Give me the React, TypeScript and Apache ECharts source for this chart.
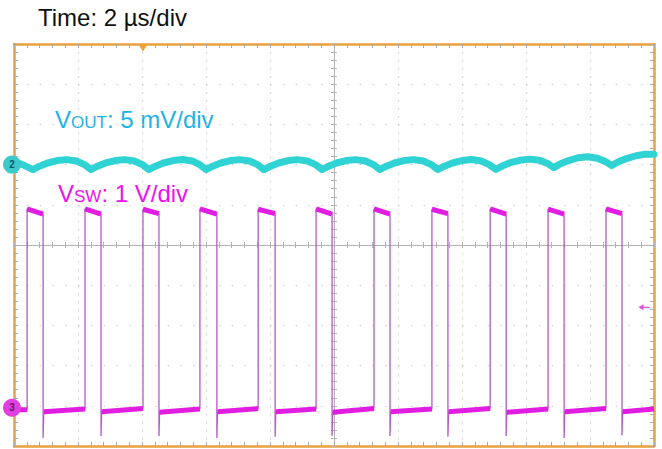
import React, { useEffect, useRef } from 'react';
import * as echarts from 'echarts';

// ---- Data (time in µs, VSW in V, VOUT ripple in mV) ----
const timeMin = 0;
const timeMax = 20;
const timeDiv = 2;

const riseTimes = [0.41, 2.22, 4.03, 5.81, 7.63, 9.44, 11.25, 13.06, 14.88, 16.69, 18.5];
const fallTimes = [0.91, 2.72, 4.53, 6.34, 8.16, 9.94, 11.75, 13.56, 15.38, 17.19, 19.0];
const highStartV = [4.95, 4.95, 4.94, 4.95, 4.94, 4.95, 4.95, 4.94, 4.95, 4.94, 4.95];
const highEndV = [4.82, 4.82, 4.83, 4.82, 4.83, 4.82, 4.82, 4.83, 4.82, 4.82, 4.83];
const undershootV = [-0.75, -0.7, -0.7, -0.75, -0.72, -0.7, -0.7, -0.72, -0.7, -0.75, -0.68];
const lowAfterV = [-0.1, -0.1, -0.11, -0.1, -0.1, -0.11, -0.1, -0.1, -0.11, -0.1, -0.1];
const lowBeforeV = [-0.05, -0.03, -0.02, -0.03, -0.02, -0.03, -0.02, -0.03, -0.02, -0.03, -0.02, -0.03];
const triggerLevelV = 2.5;

const voutTime = [
  0, 0.2, 0.4, 0.59,
  0.8, 1.05, 1.35, 1.65, 1.95, 2.2, 2.4,
  2.61, 2.86, 3.16, 3.46, 3.76, 4.01, 4.21,
  4.42, 4.67, 4.97, 5.27, 5.57, 5.8, 6.0,
  6.21, 6.46, 6.76, 7.06, 7.36, 7.61, 7.81,
  8.02, 8.27, 8.57, 8.87, 9.17, 9.42, 9.62,
  9.83, 10.08, 10.38, 10.68, 10.98, 11.23, 11.43,
  11.64, 11.89, 12.19, 12.49, 12.79, 13.04, 13.24,
  13.45, 13.7, 14.0, 14.3, 14.6, 14.85, 15.06,
  15.27, 15.52, 15.82, 16.12, 16.42, 16.67, 16.87,
  17.08, 17.33, 17.63, 17.93, 18.23, 18.48, 18.68,
  18.89, 19.14, 19.44, 19.74, 20.0,
];
const voutMv = [
  0.35, 0.1, -0.25, -0.62,
  -0.2, 0.2, 0.5, 0.62, 0.45, 0.0, -0.62,
  -0.2, 0.2, 0.5, 0.62, 0.45, 0.0, -0.62,
  -0.2, 0.2, 0.5, 0.63, 0.45, 0.0, -0.62,
  -0.2, 0.2, 0.5, 0.62, 0.45, 0.0, -0.63,
  -0.2, 0.2, 0.5, 0.62, 0.45, 0.0, -0.62,
  -0.2, 0.2, 0.5, 0.62, 0.45, 0.0, -0.62,
  -0.2, 0.2, 0.5, 0.62, 0.45, 0.0, -0.62,
  -0.2, 0.2, 0.5, 0.63, 0.45, 0.0, -0.6,
  -0.15, 0.25, 0.55, 0.68, 0.55, 0.15, -0.37,
  0.1, 0.5, 0.85, 0.98, 0.8, 0.4, -0.12,
  0.35, 0.75, 1.1, 1.3, 1.3,
];

// axis scaling (per division)
const divMin = -5;
const divMax = 5;
const vswMin = -0.95; // 1 V/div
const vswMax = 9.05;
const voutMin = -35; // 5 mV/div
const voutMax = 15;

// ---- Build series data ----
const vswPath: any[] = [[timeMin, lowBeforeV[0]]];
const vswPlateaus: any[] = [[timeMin, lowBeforeV[0]]];
riseTimes.forEach((r, i) => {
  const f = fallTimes[i];
  vswPath.push([r, lowBeforeV[i]], [r, highStartV[i]], [f, highEndV[i]], [f, undershootV[i]], [f + 0.02, lowAfterV[i]]);
  vswPlateaus.push([r, lowBeforeV[i]], [r, null], [r, highStartV[i]], [f, highEndV[i]], [f, null], [f + 0.02, lowAfterV[i]]);
});
vswPath.push([timeMax, lowBeforeV[riseTimes.length]]);
vswPlateaus.push([timeMax, lowBeforeV[riseTimes.length]]);
const voutData = voutTime.map((t, i) => [t, voutMv[i]]);

const frameColor = '#E9A23E';
const tickColor = '#A9A9A9';
const gridDot = '#C9C9C9';
const centerColor = '#B3B3B3';
const font = '"Liberation Sans", Arial, sans-serif';

const frameX = (pos: string, split: boolean) => ({
  type: 'value', min: timeMin, max: timeMax, interval: timeDiv, position: pos,
  axisLine: { show: true, onZero: false, lineStyle: { color: frameColor, width: 2.5 } },
  axisTick: { show: true, inside: true, length: 4, lineStyle: { color: tickColor } },
  minorTick: { show: true, splitNumber: 5, length: 4, lineStyle: { color: tickColor } },
  axisLabel: { show: false },
  splitLine: { show: split, lineStyle: { color: gridDot, width: 1, type: [1.5, 6.54] } },
});
const frameY = (pos: string, split: boolean) => ({
  type: 'value', min: divMin, max: divMax, interval: 1, position: pos,
  axisLine: { show: true, onZero: false, lineStyle: { color: frameColor, width: 2.5 } },
  axisTick: { show: true, inside: true, length: 4, lineStyle: { color: tickColor } },
  minorTick: { show: true, splitNumber: 5, length: 4, lineStyle: { color: tickColor } },
  axisLabel: { show: false },
  splitLine: { show: split, lineStyle: { color: gridDot, width: 1, type: [1.5, 11.3] } },
});
const centerX = (inside: boolean) => ({
  type: 'value', min: timeMin, max: timeMax, interval: timeDiv, position: 'bottom',
  axisLine: { show: true, onZero: true, onZeroAxisIndex: 0, lineStyle: { color: centerColor, width: 1 } },
  axisTick: { show: true, inside, length: 3, lineStyle: { color: centerColor } },
  minorTick: { show: true, splitNumber: 5, length: 3, lineStyle: { color: centerColor } },
  axisLabel: { show: false },
  splitLine: { show: false },
});
const centerY = (inside: boolean) => ({
  type: 'value', min: divMin, max: divMax, interval: 1, position: 'left',
  axisLine: { show: true, onZero: true, onZeroAxisIndex: 2, lineStyle: { color: centerColor, width: 1 } },
  axisTick: { show: true, inside, length: 3, lineStyle: { color: centerColor } },
  minorTick: { show: true, splitNumber: 5, length: 3, lineStyle: { color: centerColor } },
  axisLabel: { show: false },
  splitLine: { show: false },
});

const option: any = {
  animation: false,
  backgroundColor: '#ffffff',
  grid: { left: 14, top: 44, width: 640, height: 402 },
  xAxis: [
    frameX('bottom', true),
    frameX('top', false),
    { type: 'value', min: divMin, max: divMax, show: false, axisLine: { onZero: false } },
    centerX(true),
    centerX(false),
  ],
  yAxis: [
    frameY('left', true),
    frameY('right', false),
    centerY(true),
    centerY(false),
    { type: 'value', min: vswMin, max: vswMax, show: false, axisLine: { onZero: false } },
    { type: 'value', min: voutMin, max: voutMax, show: false, axisLine: { onZero: false } },
  ],
  graphic: [
    { type: 'text', left: 38, top: 5, style: { text: 'Time: 2 µs/div', font: `24px ${font}`, fill: '#111111' } },
    {
      type: 'text', left: 55, top: 107,
      style: {
        text: '{a|V}{b|OUT}{a|: 5 mV/div}',
        rich: {
          a: { fontSize: 24, lineHeight: 24, fontFamily: font, fill: '#1CB3E6', verticalAlign: 'bottom' },
          b: { fontSize: 17, lineHeight: 17, fontFamily: font, fill: '#1CB3E6', verticalAlign: 'bottom' },
        },
      },
    },
    {
      type: 'text', left: 58, top: 181,
      style: {
        text: '{a|V}{b|SW}{a|: 1 V/div}',
        rich: {
          a: { fontSize: 24, lineHeight: 24, fontFamily: font, fill: '#EE10EE', verticalAlign: 'bottom' },
          b: { fontSize: 17, lineHeight: 17, fontFamily: font, fill: '#EE10EE', verticalAlign: 'bottom' },
        },
      },
    },
  ],
  series: [
    {
      name: 'VSW', type: 'line', xAxisIndex: 0, yAxisIndex: 4, data: vswPath,
      symbol: 'none', z: 3, clip: false,
      lineStyle: { color: '#B25BC6', width: 1.3 },
      markPoint: {
        silent: true,
        symbol: 'circle',
        symbolSize: 18,
        data: [
          {
            coord: [timeMin, 0], symbol: 'circle', symbolSize: 18, symbolOffset: [-2, 0],
            itemStyle: { color: '#E23FE2' },
            label: { show: true, position: 'inside', formatter: '3', fontSize: 10, color: '#6a166a', fontWeight: 'bold' },
          },
          {
            coord: [riseTimes[2], vswMax], symbol: 'triangle', symbolRotate: 180, symbolSize: [9, 7], symbolOffset: [0, 4],
            itemStyle: { color: '#F0A030' }, label: { show: false },
          },
          {
            coord: [timeMax, triggerLevelV], symbol: 'path://M0,3 L5,0 L5,2.4 L11,2.4 L11,3.6 L5,3.6 L5,6 Z',
            symbolSize: [11, 6], symbolOffset: [-10, 0], symbolKeepAspect: false,
            itemStyle: { color: '#D64FD6' }, label: { show: false },
          },
        ],
      },
    },
    {
      name: 'VSW plateaus', type: 'line', xAxisIndex: 0, yAxisIndex: 4, data: vswPlateaus,
      symbol: 'none', z: 4, connectNulls: false,
      lineStyle: { color: '#E21DE2', width: 5 },
    },
    {
      name: 'VOUT', type: 'line', xAxisIndex: 0, yAxisIndex: 5, data: voutData,
      symbol: 'none', z: 4, clip: false,
      lineStyle: { color: '#30D3D3', width: 7, join: 'round', cap: 'round' },
      markPoint: {
        silent: true,
        symbol: 'circle',
        symbolSize: 18,
        data: [
          {
            coord: [timeMin, 0], symbol: 'circle', symbolSize: 18, symbolOffset: [-2, 0],
            itemStyle: { color: '#3CC9CC' },
            label: { show: true, position: 'inside', formatter: '2', fontSize: 10, color: '#0b5a6e', fontWeight: 'bold' },
          },
        ],
      },
    },
  ],
};

export default function App() {
  const ref = useRef<HTMLDivElement>(null);
  useEffect(() => {
    const chart = echarts.init(ref.current!, null, { renderer: 'svg' });
    chart.setOption(option);
    return () => chart.dispose();
  }, []);
  return (
    <div
      ref={ref}
      style={{ position: 'fixed', left: 0, top: 0, width: 662, height: 449, background: '#ffffff' }}
    />
  );
}
